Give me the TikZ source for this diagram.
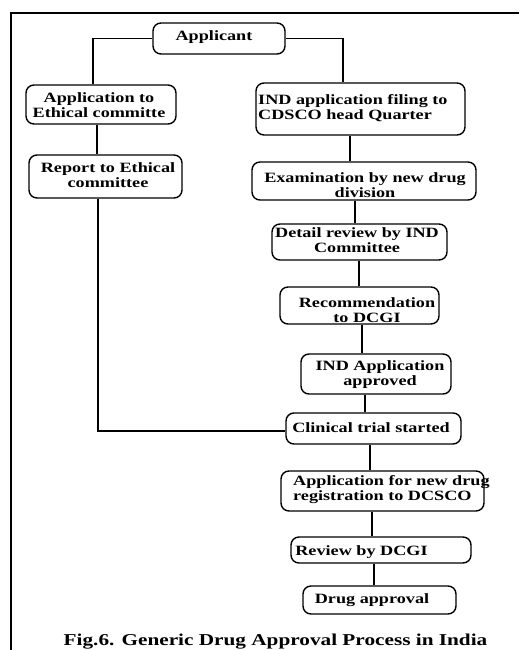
\documentclass[tikz,border=0pt]{standalone}
\usepackage{fontspec}
\setmainfont{Liberation Serif}[FakeStretch=1.28]
\begin{document}
\begin{tikzpicture}[x=1pt,y=-1pt,
  box/.style={draw,line width=1.4pt,rounded corners=8pt,inner sep=0pt},
  lbl/.style={font=\fontsize{14.2}{15}\selectfont\bfseries,inner sep=0pt,align=center},
  link/.style={line width=1.8pt},
  frame/.style={line width=1.4pt}]
\useasboundingbox (0,0) rectangle (519,650);
\fill[white] (0,0) rectangle (519,650);
% outer frame
\draw[frame] (11,650) -- (11,13) -- (519,13);
% boxes
\node[box,minimum width=132pt,minimum height=31pt] (app) at (219,38.5) {};
\node[box,minimum width=150pt,minimum height=39pt] (eth) at (101,104.5) {};
\node[box,minimum width=209pt,minimum height=52pt] (ind) at (360.5,109) {};
\node[box,minimum width=153pt,minimum height=43pt] (rep) at (105.5,176.5) {};
\node[box,minimum width=224pt,minimum height=38pt] (exam) at (364,181) {};
\node[box,minimum width=175pt,minimum height=36pt] (det) at (359.5,242) {};
\node[box,minimum width=159pt,minimum height=37pt] (rec) at (359.5,305.5) {};
\node[box,minimum width=150pt,minimum height=40pt] (indap) at (376,374) {};
\node[box,minimum width=175pt,minimum height=31pt] (clin) at (373.5,428.5) {};
\node[box,minimum width=203pt,minimum height=40pt] (appnew) at (382.5,491) {};
\node[box,minimum width=180pt,minimum height=26pt] (rev) at (381,550) {};
\node[box,minimum width=153pt,minimum height=28pt] (drug) at (379.5,600) {};
% labels
\node[lbl] (tapp) at (214,37) {Applicant};
\node[lbl] (teth) at (99,105) {Application to\\Ethical committe};
\node[lbl,align=left,anchor=west] (tind) at (258,108) {IND application filing to\\CDSCO head Quarter};
\node[lbl] (trep) at (108,175.5) {Report to Ethical\\committee};
\node[lbl] (texam) at (365,185.5) {Examination by new drug\\division};
\node[lbl] (tdet) at (357,240.5) {Detail review by IND\\Committee};
\node[lbl] (trec) at (367,310) {Recommendation\\to DCGI};
\node[lbl] (tindap) at (380,375) {IND Application\\approved};
\node[lbl] (tclin) at (371,428) {Clinical trial started};
\node[lbl,align=left,anchor=west] (tappnew) at (293,489.5) {Application for new drug\\registration to DCSCO};
\node[lbl] (trev) at (361.5,552) {Review by DCGI};
\node[lbl] (tdrug) at (372,600) {Drug approval};
\node[font=\fontsize{16.6}{18}\selectfont\bfseries,anchor=base,inner sep=0pt] (cap) at (275.5,645.5) {Fig.6. Generic Drug Approval Process in India};
% connectors
\coordinate (k1) at ([xshift=-8pt]eth.north);
\draw[link] (app.west) -| (k1);
\coordinate (k2) at ([xshift=-17.5pt]ind.north);
\draw[link] (app.east) -| (k2);
\coordinate (k3) at ([xshift=-4pt]eth.south);
\draw[link] (k3) -- (k3 |- rep.north);
\coordinate (k4) at ([xshift=-7.5pt]rep.south);
\coordinate (k4b) at ([yshift=-2.5pt]clin.west);
\draw[link] (k4) |- (k4b);
\coordinate (k5) at ([xshift=-10.5pt]ind.south);
\draw[link] (k5) -- (k5 |- exam.north);
\coordinate (k6) at ([xshift=-9pt]exam.south);
\draw[link] (k6) -- (k6 |- det.north);
\coordinate (k7) at ([xshift=-0.5pt]det.south);
\draw[link] (k7) -- (k7 |- rec.north);
\coordinate (k8) at ([xshift=2.5pt]rec.south);
\draw[link] (k8) -- (k8 |- indap.north);
\coordinate (k9) at ([xshift=-11pt]indap.south);
\draw[link] (k9) -- (k9 |- clin.north);
\coordinate (k10) at ([xshift=-3.5pt]clin.south);
\draw[link] (k10) -- (k10 |- appnew.north);
\coordinate (k11) at ([xshift=-10.5pt]appnew.south);
\draw[link] (k11) -- (k11 |- rev.north);
\coordinate (k12) at ([xshift=-7pt]rev.south);
\draw[link] (k12) -- (k12 |- drug.north);
\end{tikzpicture}
\end{document}
